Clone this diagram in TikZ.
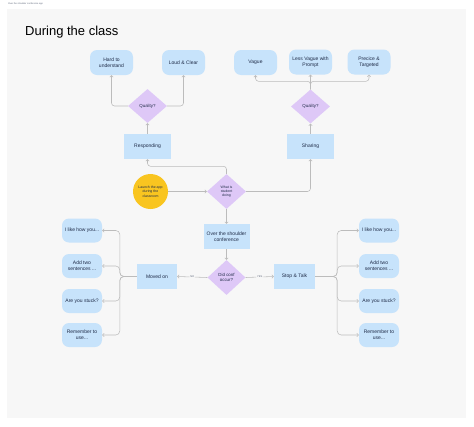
\documentclass[tikz,border=0pt]{standalone}
\usepackage{fontspec}
\setmainfont{Liberation Sans}
\usetikzlibrary{shapes.geometric,arrows.meta}
\definecolor{framebg}{HTML}{F7F7F7}
\definecolor{boxblue}{HTML}{C7E3FB}
\definecolor{lav}{HTML}{DEC8F7}
\definecolor{yel}{HTML}{F9C520}
\definecolor{ink}{HTML}{1F2B47}
\definecolor{wirec}{HTML}{BCBCBC}
\begin{document}
\begin{tikzpicture}[x=1pt,y=-1pt,
  box/.style={rectangle, fill=boxblue, minimum width=47pt, minimum height=25pt, inner sep=0pt,
    font=\fontsize{5}{6}\selectfont, text=ink, align=center},
  leaf/.style={box, rounded corners=7pt, minimum width=43pt},
  sleaf/.style={box, rounded corners=7pt, minimum width=40pt, minimum height=24pt},
  dia/.style={diamond, fill=lav, minimum width=39pt, minimum height=35pt, inner sep=0pt,
    font=\fontsize{4.4}{5.4}\selectfont, text=ink, align=center},
  wire/.style={draw=wirec, line width=0.55pt, rounded corners=3pt},
  arr/.style={wire, -{Straight Barb[length=1.6pt,width=3.4pt,line width=0.55pt]}},
  lbl/.style={fill=framebg, inner sep=1pt, font=\fontsize{2.6}{3}\selectfont, text=ink!70}
]
\useasboundingbox[fill=white] (0,0) rectangle (474,426);
\fill[framebg] (7,9) rectangle (466,418);
\node[anchor=west, inner sep=0pt, font=\fontsize{2.3}{2.6}\selectfont, text=ink!70] (cap) at (8,4) {Over the shoulder conference app};
\node[anchor=west, inner sep=0pt, font=\fontsize{13}{15}\selectfont, text=black] (title) at (25,32) {During the class};

% top row
\node[leaf] (hard) at (111.5,62.5) {Hard to\\understand};
\node[leaf] (loud) at (183.5,62.5) {Loud \& Clear};
\node[leaf] (vague) at (255.5,62.5) {Vague};
\node[leaf] (less) at (310.5,62) {Less Vague with\\Prompt};
\node[leaf] (prec) at (369,62) {Precice \&\\Targeted};

\node[dia, minimum height=34pt] (q1) at (147.5,106) {Quality?};
\node[dia, minimum height=34pt] (q2) at (310.5,106.5) {Quality?};

\node[box] (resp) at (147.5,146.5) {Responding};
\node[box] (shar) at (310.5,146.5) {Sharing};

\node[circle, fill=yel, minimum size=35pt, inner sep=0pt, font=\fontsize{3.5}{4.3}\selectfont, text=ink, align=center] (launch) at (150.5,191.5) {Launch the app\\during the\\classroom};
\node[dia, font=\fontsize{3.5}{4.3}\selectfont] (what) at (226.5,191.5) {What is\\student\\doing};

\node[box, minimum width=46pt] (over) at (226.5,236.5) {Over the shoulder\\conference};
\node[dia, minimum width=38pt, minimum height=35pt] (did) at (226.5,277.5) {Did conf\\occur?};

\node[box, minimum width=40pt] (moved) at (157,276.5) {Moved on};
\node[box, minimum width=41pt] (stop) at (294.5,276.5) {Stop \& Talk};

\node[sleaf] (l1) at (82,230.5) {I like how you...};
\node[sleaf] (l2) at (82,266) {Add two\\sentences ...};
\node[sleaf] (l3) at (82,301) {Are you stuck?};
\node[sleaf] (l4) at (82,335) {Remember to\\use...};

\node[sleaf] (r1) at (379,230.5) {I like how you...};
\node[sleaf] (r2) at (379,266) {Add two\\sentences ...};
\node[sleaf] (r3) at (379,301) {Are you stuck?};
\node[sleaf] (r4) at (379,335) {Remember to\\use...};

% connectors
\draw[arr] (launch.east) -- (what.west);
\draw[arr] (what.north) -- ++(0,-7.5) -| (resp.south);
\draw[arr] (what.east) -| (shar.south);
\draw[arr] (resp.north) -- (q1.south);
\draw[arr] (shar.north) -- (q2.south);
\draw[arr] (q1.west) -| (hard.south);
\draw[arr] (q1.east) -| (loud.south);
\draw[arr] (q2.north) -- ++(0,-8) -| (vague.south);
\draw[arr] (q2.north) -- ++(0,-8) -| (prec.south);
\draw[arr] (q2.north) -- (less.south);

\draw[arr] (what.south) -- (over.north);
\draw[arr] (over.south) -- (did.north);
\draw[arr] (did.west) -- node[lbl] {NO} (moved.east);
\draw[arr] (did.east) -- node[lbl] {YES} (stop.west);

\foreach \n in {l1,l2,l3,l4}{
  \draw[arr, rounded corners=4pt] (moved.west) -- ++(-17,0) |- (\n.east);
}
\foreach \n in {r1,r2,r3,r4}{
  \draw[arr, rounded corners=4pt] (stop.east) -- ++(22,0) |- (\n.west);
}
\end{tikzpicture}
\end{document}
